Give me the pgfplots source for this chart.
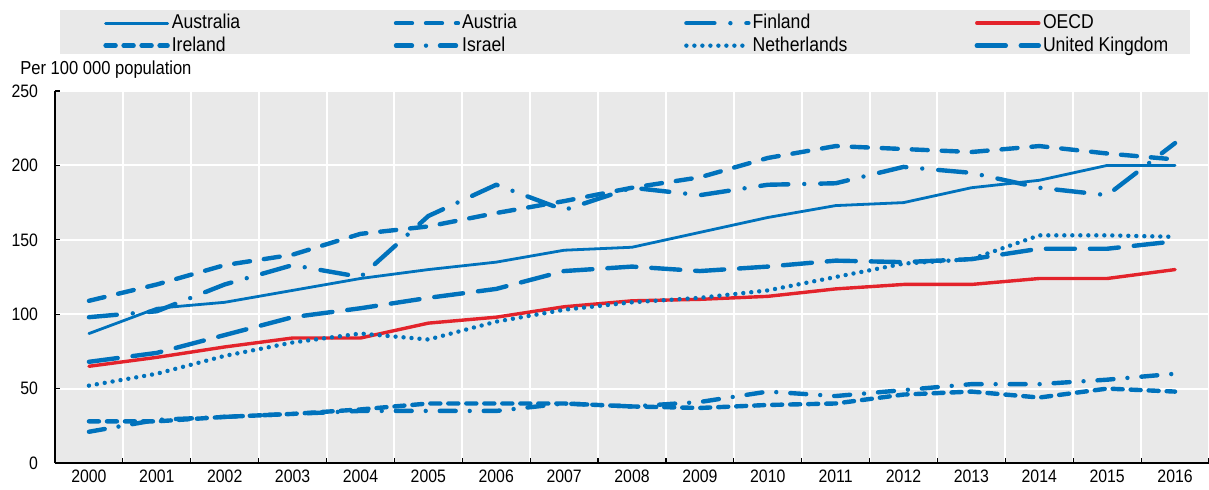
\documentclass[border=0pt]{standalone}
\usepackage{fontspec}
\setmainfont{Liberation Sans}[FakeStretch=0.88]
\usepackage{pgfplots}
\pgfplotsset{compat=1.18}

\definecolor{oblue}{HTML}{0072BC}
\definecolor{ored}{HTML}{E3232B}
\definecolor{bggray}{HTML}{E9E9E9}

\newcommand{\lbl}{\fontsize{9}{11}\selectfont}
\newcommand{\leg}{\fontsize{10}{12}\selectfont}

\begin{document}
\begin{tikzpicture}
\path[use as bounding box] (-27.5pt,-13pt) rectangle (577pt,231.5pt);
% legend band and unit label
\fill[bggray] (2.5pt,204.5pt) rectangle (567.5pt,226.5pt);
\node[anchor=west, font=\fontsize{9.4}{11}\selectfont, inner sep=0pt] at (-17.5pt,196.5pt) {Per 100 000 population};

\begin{axis}[
  scale only axis,
  width=577pt, height=186pt,
  at={(0pt,0pt)}, anchor=south west,
  xmin=-0.5, xmax=16.5,
  ymin=0, ymax=250,
  axis x line*=bottom, axis y line*=left,
  axis line style={black, line width=0.8pt},
  axis background/.style={fill=bggray},
  xtick={0,...,16},
  xticklabels={2000,2001,2002,2003,2004,2005,2006,2007,2008,2009,2010,2011,2012,2013,2014,2015,2016},
  minor xtick={-0.5,0.5,...,16.5},
  xminorgrids=true,
  ytick={0,50,...,250},
  ymajorgrids=true,
  grid style={white, line width=1pt},
  minor grid style={white, line width=1pt},
  tick align=inside,
  major tick length=2.5pt, minor tick length=2.5pt,
  tick style={black, line width=0.6pt},
  major x tick style={draw=none},
  ticklabel style={font=\lbl},
  yticklabel style={xshift=-5pt},
  /pgf/number format/assume math mode=true,
  legend columns=4,
  legend cell align=left,
  legend style={at={(0,1)}, anchor=north west, xshift=24pt, yshift=39.5pt,
    draw=none, fill=none, inner sep=0pt, font=\leg, row sep=0.5pt,
    nodes={inner sep=1pt}},
  legend image code/.code={\draw[#1] (0pt,0pt) -- (31pt,0pt);},
  every axis plot/.append style={line cap=round, line join=round},
]
% Australia
\addplot[oblue, line width=1.4pt] coordinates {
 (0,87) (1,104) (2,108) (3,116) (4,124) (5,130) (6,135) (7,143) (8,145)
 (9,155) (10,165) (11,173) (12,175) (13,185) (14,190) (15,200) (16,200)};
\addlegendentry{\makebox[110pt][l]{Australia}}
% Austria
\addplot[oblue, line width=2.2pt, dash pattern=on 8pt off 7pt] coordinates {
 (0,109) (1,120) (2,133) (3,140) (4,154) (5,159) (6,168) (7,176) (8,185)
 (9,192) (10,205) (11,213) (12,211) (13,209) (14,213) (15,208) (16,204)};
\addlegendentry{\makebox[110pt][l]{Austria}}
% Finland
\addplot[oblue, line width=2.2pt, dash pattern=on 14pt off 8pt on 0pt off 8pt] coordinates {
 (0,98) (1,102) (2,120) (3,133) (4,125) (5,166) (6,187) (7,170) (8,185)
 (9,180) (10,187) (11,188) (12,199) (13,195) (14,185) (15,180) (16,215)};
\addlegendentry{\makebox[110pt][l]{Finland}}
% OECD
\addplot[ored, line width=1.7pt] coordinates {
 (0,65) (1,71) (2,78) (3,84) (4,84) (5,94) (6,98) (7,105) (8,109)
 (9,110) (10,112) (11,117) (12,120) (13,120) (14,124) (15,124) (16,130)};
\addlegendentry{OECD}
% Ireland
\addplot[oblue, line width=2.2pt, dash pattern=on 5pt off 4pt] coordinates {
 (0,28) (1,28) (2,31) (3,33) (4,36) (5,40) (6,40) (7,40) (8,38)
 (9,37) (10,39) (11,40) (12,46) (13,48) (14,44) (15,50) (16,48)};
\addlegendentry{\makebox[110pt][l]{Ireland}}
% Israel
\addplot[oblue, line width=2.2pt, dash pattern=on 8pt off 7pt on 0pt off 7pt] coordinates {
 (0,21) (1,29) (2,31) (3,33) (4,35) (5,35) (6,35) (7,40) (8,38)
 (9,41) (10,48) (11,45) (12,49) (13,53) (14,53) (15,56) (16,60)};
\addlegendentry{\makebox[110pt][l]{Israel}}
% Netherlands
\addplot[oblue, line width=2.2pt, dash pattern=on 0pt off 4pt] coordinates {
 (0,52) (1,60) (2,72) (3,81) (4,87) (5,83) (6,95) (7,103) (8,108)
 (9,111) (10,116) (11,125) (12,134) (13,137) (14,153) (15,153) (16,152)};
\addlegendentry{\makebox[110pt][l]{Netherlands}}
% United Kingdom
\addplot[oblue, line width=2.2pt, dash pattern=on 14.5pt off 7.5pt] coordinates {
 (0,68) (1,74) (2,86) (3,98) (4,104) (5,111) (6,117) (7,129) (8,132)
 (9,129) (10,132) (11,136) (12,135) (13,137) (14,144) (15,144) (16,149)};
\addlegendentry{United Kingdom}
\end{axis}
\end{tikzpicture}
\end{document}
